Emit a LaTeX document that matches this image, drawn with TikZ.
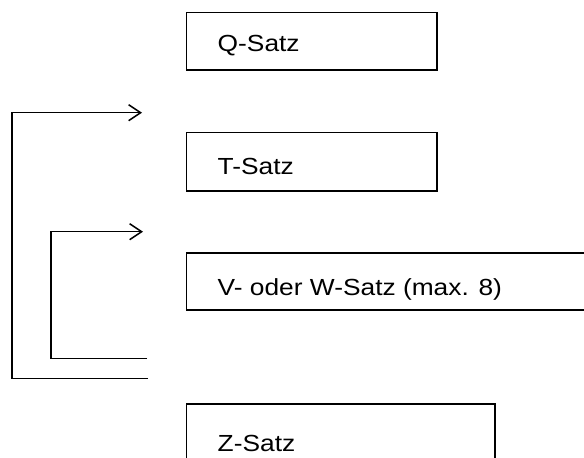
\documentclass[tikz,border=0pt]{standalone}
\usepackage{fontspec}
\setmainfont{Liberation Sans}
\usepackage{graphicx}
\usetikzlibrary{arrows.meta}
\begin{document}
\begin{tikzpicture}[x=1pt,y=-1pt,
  box/.style={draw, line width=1.6pt, inner sep=0pt, anchor=north west},
  lbl/.style={anchor=base west, inner sep=0pt, font=\fontsize{23.3}{28}\selectfont},
  conn/.style={line width=1.3pt},
  arr/.style={conn, -{Straight Barb[length=12pt,width=16pt,line width=1.5pt]}}]
\clip (0,0) rectangle (584,458);
% boxes
\node[box, minimum width=250.3pt, minimum height=57.6pt] (q) at (185.7,11.7) {};
\node[box, minimum width=250.3pt, minimum height=58.3pt] (t) at (185.7,131.7) {};
\node[box, minimum width=420pt, minimum height=57pt] (v) at (185.7,252.3) {};
\node[box, minimum width=308.3pt, minimum height=80pt] (z) at (185.7,403.3) {};
% labels
\node[lbl] (qt) at (217.5,51) {\scalebox{1.13}[1]{Q-Satz}};
\node[lbl] (tt) at (217.5,174) {\scalebox{1.13}[1]{T-Satz}};
\node[lbl] (vt) at (217.5,295) {\scalebox{1.13}[1]{V- oder W-Satz (max. 8)}};
\node[lbl] (zt) at (217.5,451.7) {\scalebox{1.13}[1]{Z-Satz}};
% connectors
\coordinate (o1) at (148,378.3);
\coordinate (o2) at (142,112.7);
\coordinate (i1) at (147,358.7);
\coordinate (i2) at (143,231.7);
\draw[arr] (o1) -- ++(-136,0) |- (o2);
\draw[arr] (i1) -- ++(-96,0) |- (i2);
\end{tikzpicture}
\end{document}
